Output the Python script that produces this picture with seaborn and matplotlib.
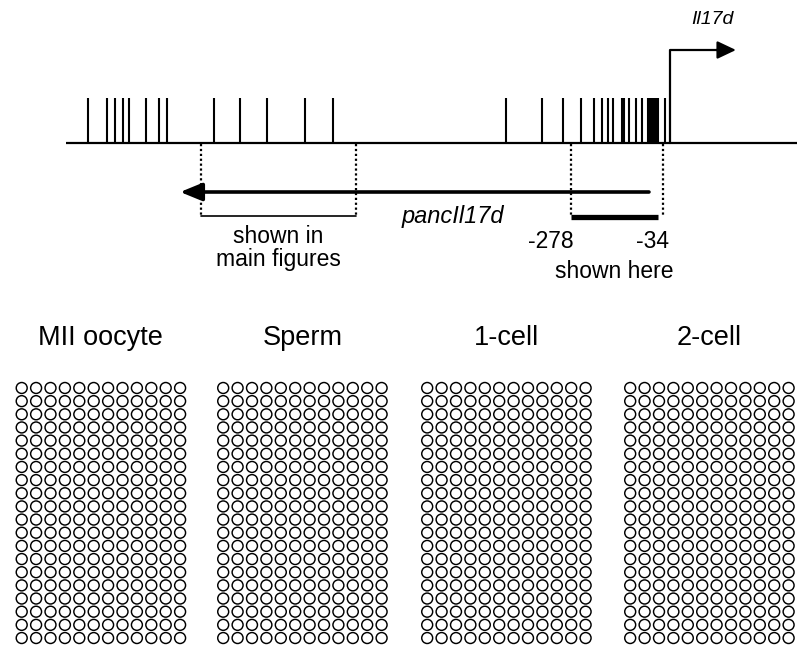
import numpy as np
import pandas as pd
import matplotlib
matplotlib.use("Agg")
import matplotlib.pyplot as plt
import seaborn as sns

sns.set_theme(style="white")
plt.rcParams["font.family"] = ["Liberation Sans", "DejaVu Sans"]
plt.rcParams["text.color"] = "black"

# CpG positions relative to the Il17d transcription start site (bp)
cpg_positions = [-1633, -1578, -1557, -1533, -1518, -1470, -1434, -1412,
                 -1279, -1205, -1130, -1025, -944,
                 -460, -359, -301, -250, -212, -192, -175, -159, -135, -129,
                 -114, -95, -78, -62, -56, -51, -45, -39, -34, -14]
locus_span = (-1694, 356)
antisense_span = (-59, -1374)          # pancIl17d, drawn 5' -> 3'
main_region = (-1316, -881)            # region shown in main figures
here_region = (-278, -34)              # region analysed below
here_region_guides = (-278, -20)
region_labels = ["-278", "-34"]

# Bisulfite clones: 20 clones x 12 CpGs per sample, methylated calls listed
samples = ["MII oocyte", "Sperm", "1-cell", "2-cell"]
n_clones = 20
n_cpg = 12
methylated_calls = {"MII oocyte": [], "Sperm": [], "1-cell": [], "2-cell": []}

W, H = 798, 649
fig = plt.figure(figsize=(W / 100, H / 100), dpi=100)

# ---- locus diagram (x in bp, y in figure pixels from the top) ----
top_h = 300
ax = fig.add_axes([0, 1 - top_h / H, 1, top_h / H])
bp_per_px = 2.805
ax.set_xlim(-670 * bp_per_px, (W - 670) * bp_per_px)
ax.set_ylim(top_h, 0)
ax.axis("off")

base_y = 143
ax.plot(locus_span, [base_y, base_y], color="black", lw=1.6, solid_capstyle="butt")
ax.vlines(cpg_positions, 98, base_y, color="black", lw=1.5)

# transcription start site arrow
ax.plot([0, 0, 140], [base_y, 50, 50], color="black", lw=1.6)
ax.annotate("", xy=(185, 50), xytext=(130, 50),
            arrowprops=dict(arrowstyle="-|>,head_length=0.95,head_width=0.45",
                            color="black", lw=1.6, shrinkA=0, shrinkB=0))
ax.text(120, 19, "Il17d", style="italic", fontsize=14, ha="center", va="center")

# antisense transcript
ax.annotate("", xy=(antisense_span[1], 192), xytext=(antisense_span[0], 192),
            arrowprops=dict(arrowstyle="-|>,head_length=1.1,head_width=0.45",
                            color="black", lw=2.6, shrinkA=0, shrinkB=0))
ax.text(-609, 217, "pancIl17d", style="italic", fontsize=17, ha="center", va="center")

# guides and region bars
for xg in list(main_region) + list(here_region_guides):
    ax.plot([xg, xg], [base_y + 1, 215], color="black", lw=1.6, ls=(0, (1, 1.2)))
ax.plot(main_region, [216, 216], color="black", lw=1.2)
ax.plot(here_region, [217, 217], color="black", lw=3.8, solid_capstyle="butt")

ax.text(np.mean(main_region), 248, "shown in\nmain figures", fontsize=16.5,
        ha="center", va="center", linespacing=1.05)
ax.text(here_region[0] - 56, 242, region_labels[0], fontsize=16.5, ha="center", va="center")
ax.text(here_region[1] - 14, 242, region_labels[1], fontsize=16.5, ha="center", va="center")
ax.text(-156, 272, "shown here", fontsize=16.5, ha="center", va="center")

# ---- methylation grids ----
grid_lefts = [14.5, 216, 420, 623]
grid_w = 14.4 * n_cpg
grid_top, grid_bottom = 381.4, 644.6
for name, left in zip(samples, grid_lefts):
    calls = set(map(tuple, methylated_calls[name]))
    rows = [(c, r, int((r, c) in calls)) for r in range(n_clones) for c in range(n_cpg)]
    df = pd.DataFrame(rows, columns=["cpg", "clone", "methylated"])
    gax = fig.add_axes([left / W, 1 - grid_bottom / H, grid_w / W,
                        (grid_bottom - grid_top) / H])
    sns.scatterplot(data=df, x="cpg", y="clone", hue="methylated",
                    palette={0: "white", 1: "black"}, hue_order=[0, 1],
                    edgecolor="black", linewidth=1.05, s=62, legend=False, ax=gax)
    gax.set_xlim(-0.5, n_cpg - 0.5)
    gax.set_ylim(n_clones - 0.5, -0.5)
    gax.axis("off")
    fig.text((left + grid_w / 2) / W, 1 - 338 / H, name, fontsize=19.5,
             ha="center", va="center")

fig.savefig("out.png", dpi=100, facecolor="white")
